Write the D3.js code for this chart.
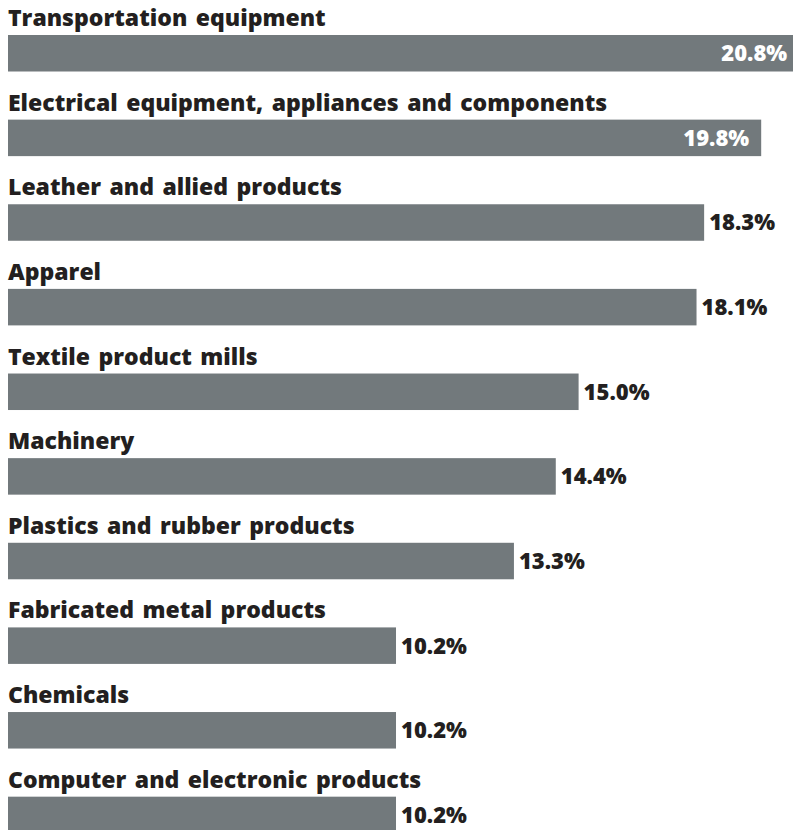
<!DOCTYPE html>
<html>
<head>
<meta charset="utf-8">
<script src="https://cdn.jsdelivr.net/npm/d3@7"></script>
<style>
  html, body { margin: 0; padding: 0; background: #fff; }
  svg { display: block; }
  text { font-family: "Open Sans", sans-serif; font-weight: 800; }
  text.name { word-spacing: 2.5px; }
</style>
</head>
<body>
<svg id="chart" width="793" height="830"></svg>
<script>
// Industries, ranked by share
const categories = [
  "Transportation equipment",
  "Electrical equipment, appliances and components",
  "Leather and allied products",
  "Apparel",
  "Textile product mills",
  "Machinery",
  "Plastics and rubber products",
  "Fabricated metal products",
  "Chemicals",
  "Computer and electronic products"
];
const values = [20.8, 19.8, 18.3, 18.1, 15.0, 14.4, 13.3, 10.2, 10.2, 10.2];

const W = 793, H = 830;
const svg = d3.select("#chart");

const left = 8;
const x = d3.scaleLinear().domain([0, 1]).range([left, left + 38.04]);
const rowStep = 84.63;
const rowTop = 48;          // space for the category name above each bar
const y = d3.scaleBand()
  .domain(categories)
  .range([35 - rowTop, 35 - rowTop + rowStep * categories.length])
  .paddingInner(0);

const barH = 36.5;
const labelSize = 23;
const valueSize = 22;
const barColor = "#72797c";
const textColor = "#231f20";

const rows = svg.selectAll("g.row")
  .data(categories.map((c, i) => ({ c, v: values[i] })))
  .join("g")
  .attr("class", "row")
  .attr("transform", d => `translate(0,${y(d.c)})`);

// Category name above each bar
rows.append("text")
  .attr("class", "name")
  .attr("x", left)
  .attr("y", rowTop - 9)
  .attr("fill", textColor)
  .attr("font-size", labelSize)
  .text(d => d.c);

// The bar itself
rows.append("rect")
  .attr("x", left)
  .attr("y", rowTop)
  .attr("width", d => x(d.v) - left)
  .attr("height", barH)
  .attr("fill", barColor);

// Value label: inside the bar when it would not fit to the right
rows.append("text")
  .attr("y", rowTop + barH / 2)
  .attr("dy", "0.36em")
  .attr("font-size", valueSize)
  .each(function (d) {
    const end = x(d.v);
    const t = d3.select(this).text(d3.format(".1f")(d.v) + "%");
    if (end + 80 > W) {
      t.attr("x", end - 12).attr("text-anchor", "end").attr("fill", "#fff");
    } else {
      t.attr("x", end + 5).attr("text-anchor", "start").attr("fill", textColor);
    }
  });
</script>
</body>
</html>
